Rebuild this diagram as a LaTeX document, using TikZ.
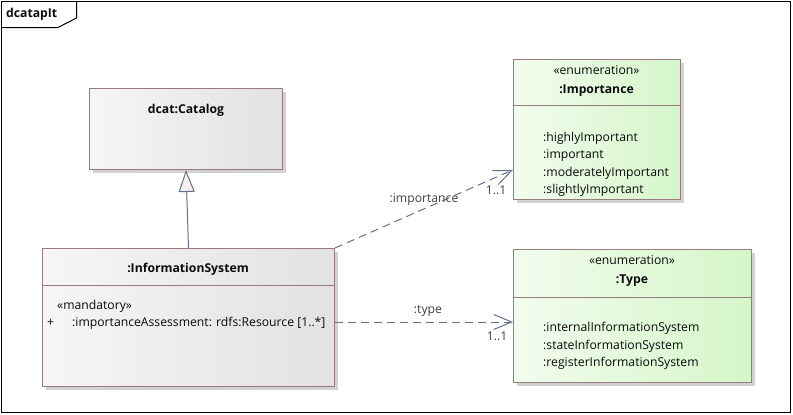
\documentclass[tikz,border=0pt]{standalone}
\usepackage{fontspec}
\setmainfont{Open Sans}
\usetikzlibrary{arrows.meta,shadows,calc}

\definecolor{umlborder}{HTML}{967C7C}
\definecolor{umlline}{HTML}{65708F}
\definecolor{umltext}{HTML}{0A0A0A}
\definecolor{umllabel}{HTML}{404040}
\definecolor{grayA}{HTML}{F6F6F6}
\definecolor{grayB}{HTML}{E2E2E2}
\definecolor{greenA}{HTML}{F2FCEE}
\definecolor{greenB}{HTML}{D5F6C9}
\definecolor{trifill}{HTML}{F8F0EC}

\tikzset{
  uml/.style={draw=umlborder, line width=1pt, anchor=north west, inner sep=0pt,
    drop shadow={shadow xshift=3pt, shadow yshift=-3pt, fill=black, opacity=0.18}},
  graybox/.style={uml, left color=grayA, right color=grayB},
  greenbox/.style={uml, left color=greenA, right color=greenB},
  txt/.style={font=\fontsize{12.2}{14}\selectfont, text=umltext, inner sep=0pt, anchor=base west},
  ctr/.style={font=\fontsize{12.2}{14}\selectfont, text=umltext, inner sep=0pt, anchor=base},
  ttl/.style={font=\fontsize{12.2}{14}\selectfont\bfseries, text=umltext, inner sep=0pt, anchor=base},
  lbl/.style={font=\fontsize{12.2}{14}\selectfont, text=umllabel, inner sep=0pt, anchor=base},
  dep/.style={draw=umlline, line width=1pt, dash pattern=on 8pt off 5pt,
    -{Straight Barb[length=18pt, width=15pt, line width=1pt]}},
  gen/.style={draw=umlline, line width=1pt,
    -{Triangle[length=22pt, width=16pt, fill=trifill, line width=1pt]}},
}

\begin{document}
\begin{tikzpicture}[x=1pt, y=-1pt]
\useasboundingbox (0,0) rectangle (793,415);

% diagram frame and its name tab
\draw[line width=1pt] (1.5,1.5) rectangle (790.5,412.5);
\draw[line width=1pt] (1.5,27.5) -- (58,27.5) -- (76.5,18) -- (76.5,1.5);
\node[ttl, anchor=base west] (frame) at (6,17.5) {dcatapIt};

% classes
\node[graybox, minimum width=193pt, minimum height=81pt] (cat) at (89,88) {};
\node[ttl] (catT) at (186,113) {dcat:Catalog};

\node[graybox, minimum width=292pt, minimum height=138pt] (is) at (42,248) {};
\draw[umlborder, line width=1pt] (42,285) -- (334,285);
\node[ttl] (isT) at (188,272.5) {:InformationSystem};
\node[txt] (isS) at (57,309) {«mandatory»};
\node[txt] (isP) at (47,326.5) {+};
\node[txt] (isA) at (72,326.5) {:importanceAssessment: rdfs:Resource [1..*]};

\node[greenbox, minimum width=167pt, minimum height=140pt] (imp) at (513,59) {};
\draw[umlborder, line width=1pt] (513,105) -- (680,105);
\node[ctr] (impS) at (596.5,74) {«enumeration»};
\node[ttl] (impT) at (596.5,93) {:Importance};
\node[txt] (imp1) at (543,141) {:highlyImportant};
\node[txt] (imp2) at (543,158.5) {:important};
\node[txt] (imp3) at (543,176) {:moderatelyImportant};
\node[txt] (imp4) at (543,193.5) {:slightlyImportant};

\node[greenbox, minimum width=238pt, minimum height=133pt] (type) at (513,249) {};
\draw[umlborder, line width=1pt] (513,297) -- (751,297);
\node[ctr] (typeS) at (632,264) {«enumeration»};
\node[ttl] (typeT) at (632,283) {:Type};
\node[txt] (type1) at (543,331.5) {:internalInformationSystem};
\node[txt] (type2) at (543,349) {:stateInformationSystem};
\node[txt] (type3) at (543,366.5) {:registerInformationSystem};

% generalization
\draw[gen] (is.north) -- (cat.south);

% dependencies
\coordinate (impIn) at ($(imp.south west)!0.214!(imp.north west)$);
\draw[dep] (is.north east) -- (impIn);
\node[lbl] (impL) at (424,202) {:importance};
\node[lbl] (impM) at (496,194) {1..1};

\coordinate (typeOut) at (334,322);
\draw[dep] (is.east |- typeOut) -- (type.west |- typeOut);
\node[lbl] (typeL) at (428,313) {:type};
\node[lbl] (typeM) at (497,340.5) {1..1};
\end{tikzpicture}
\end{document}
